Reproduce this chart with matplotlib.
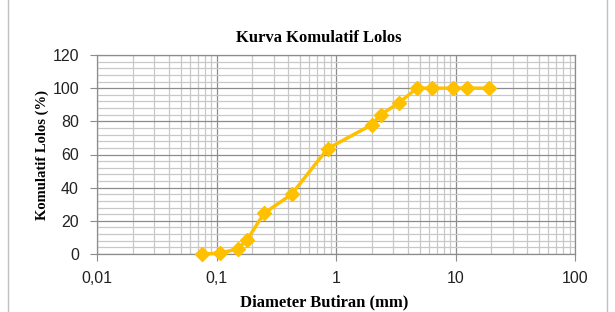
import matplotlib
matplotlib.use("Agg")
import matplotlib.pyplot as plt
from matplotlib.ticker import FixedLocator, MultipleLocator, LogLocator, NullFormatter
from matplotlib.patches import Rectangle

diameter_mm = [0.075, 0.106, 0.15, 0.18, 0.25, 0.425, 0.85, 2.0, 2.36, 3.35, 4.75, 6.3, 9.5, 12.5, 19.0]
passing_pct = [0.0, 0.5, 3.0, 8.5, 24.5, 36.0, 63.5, 78.0, 84.0, 91.0, 100.0, 100.0, 100.0, 100.0, 100.0]

x_ticks = [0.01, 0.1, 1, 10, 100]
x_tick_labels = ["0,01", "0,1", "1", "10", "100"]
y_ticks = [0, 20, 40, 60, 80, 100, 120]

W, H = 615, 312
fig = plt.figure(figsize=(W / 100, H / 100), dpi=100)
ax = fig.add_axes([97 / W, 1 - 254 / H, (575 - 97) / W, (254 - 55) / H])

ax.set_xscale("log")
ax.set_xlim(0.01, 100)
ax.set_ylim(0, 120)

ax.xaxis.set_major_locator(FixedLocator(x_ticks))
ax.set_xticklabels(x_tick_labels)
ax.xaxis.set_minor_locator(LogLocator(base=10, subs=range(2, 10)))
ax.xaxis.set_minor_formatter(NullFormatter())
ax.yaxis.set_major_locator(FixedLocator(y_ticks))
ax.yaxis.set_minor_locator(MultipleLocator(4))

ax.grid(which="major", color="#8c8c8c", linewidth=0.9)
ax.grid(which="minor", color="#c8c8c8", linewidth=0.9)
ax.set_axisbelow(True)

for s in ax.spines.values():
    s.set_color("#8c8c8c")
    s.set_linewidth(0.9)

ax.tick_params(axis="both", which="major", direction="out", length=5, color="#8c8c8c",
               labelsize=11.5, labelcolor="#222222")
ax.tick_params(axis="both", which="minor", length=0)
for lab in ax.get_xticklabels() + ax.get_yticklabels():
    lab.set_fontfamily("Liberation Sans")
ax.tick_params(axis="x", pad=7)
ax.tick_params(axis="y", pad=8)

ax.plot(diameter_mm, passing_pct, color="#FFC000", linewidth=2.5,
        marker="D", markersize=7.5, markerfacecolor="#FFC000", markeredgecolor="#FFC000",
        clip_on=False, zorder=5)

fig.text(319 / W, 1 - 38 / H, "Kurva Komulatif Lolos", ha="center", va="center",
         fontfamily="Liberation Serif", fontweight="bold", fontsize=12)
fig.text(324 / W, 1 - 302 / H, "Diameter Butiran (mm)", ha="center", va="center",
         fontfamily="Liberation Serif", fontweight="bold", fontsize=12)
fig.text(42 / W, 1 - 155 / H, "Komulatif Lolos (%)", ha="center", va="center", rotation=90,
         fontfamily="Liberation Serif", fontweight="bold", fontsize=10.5)

fig.patches.append(Rectangle((8 / W, -0.02), (W - 16) / W, 1.04, transform=fig.transFigure,
                             fill=False, edgecolor="#bfbfbf", linewidth=1.0))

fig.savefig("out.png", dpi=100)
